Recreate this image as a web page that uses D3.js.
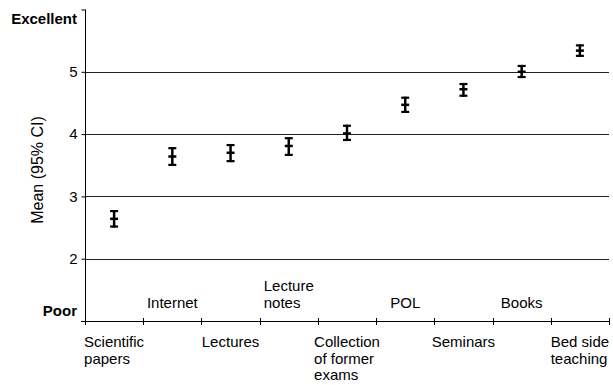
<!DOCTYPE html>
<html>
<head>
<meta charset="utf-8">
<script src="https://cdn.jsdelivr.net/npm/d3@7"></script>
<style>
  html, body { margin: 0; padding: 0; background: #fff; }
  svg { display: block; font-family: "Liberation Sans", Arial, sans-serif; }
</style>
</head>
<body>
<svg id="chart" width="613" height="385"></svg>
<script>
// ---- data ----
const categories = ["Scientific papers", "Internet", "Lectures", "Lecture notes",
  "Collection of former exams", "POL", "Seminars", "Books", "Bed side teaching"];
const categoryLabels = ["Scientific\npapers", "Internet", "Lectures", "Lecture\nnotes",
  "Collection\nof former\nexams", "POL", "Seminars", "Books", "Bed side\nteaching"];
const means = [2.64, 3.64, 3.70, 3.81, 4.01, 4.47, 4.72, 5.00, 5.34];
const lowerCI = [2.50, 3.49, 3.55, 3.65, 3.89, 4.34, 4.60, 4.90, 5.24];
const upperCI = [2.78, 3.79, 3.84, 3.95, 4.15, 4.60, 4.82, 5.11, 5.44];
const yTickValues = [1, 2, 3, 4, 5, 6];
const yTickLabels = ["", "2", "3", "4", "5", ""];
const scaleEndLabels = ["Poor", "Excellent"];
const scaleEndValues = [1.17, 5.85];
const gridValues = [2, 3, 4, 5];
const yTitle = "Mean (95% CI)";

// ---- layout ----
const svg = d3.select("#chart");
const mLeft = 85, mRight = 609, mTop = 9.5, mBottom = 321;
const x = d3.scaleBand().domain(categories).range([mLeft, mRight]).padding(0);
const y = d3.scaleLinear().domain([1, 6]).range([mBottom, mTop]);

// gridlines
svg.append("g").selectAll("line").data(gridValues).join("line")
  .attr("x1", mLeft).attr("x2", mRight)
  .attr("y1", d => Math.round(y(d)) + 0.5).attr("y2", d => Math.round(y(d)) + 0.5)
  .attr("stroke", "#222").attr("stroke-width", 1);

// y axis
const yAxis = d3.axisLeft(y).tickValues(yTickValues)
  .tickFormat((d, i) => yTickLabels[i]).tickSizeInner(4).tickSizeOuter(0).tickPadding(4);
const gy = svg.append("g").attr("transform", `translate(${mLeft + 0.5},0)`).call(yAxis);
gy.select(".domain").attr("stroke", "#000");
gy.selectAll(".tick line").attr("stroke", "#000");
gy.selectAll(".tick text")
  .attr("font-size", 15)
  .attr("fill", "#000")
  .attr("font-family", "'Liberation Sans', Arial, sans-serif");
gy.select(".domain").attr("d", `M0,${y(6)}V${y(1) + 3}`);

// end-of-scale labels
svg.append("g").selectAll("text").data(scaleEndLabels).join("text")
  .attr("x", 77)
  .attr("y", (d, i) => y(scaleEndValues[i]))
  .attr("dy", "0.35em")
  .attr("text-anchor", "end")
  .attr("font-size", 15)
  .attr("font-weight", "bold")
  .attr("fill", "#000")
  .text(d => d);

// x axis line
svg.append("line")
  .attr("x1", mLeft - 4).attr("x2", mRight)
  .attr("y1", Math.round(mBottom) + 0.5).attr("y2", Math.round(mBottom) + 0.5)
  .attr("stroke", "#000");

// x ticks at band boundaries
const boundaries = categories.map(c => x(c)).concat([x(categories[categories.length - 1]) + x.bandwidth()]);
svg.append("g").selectAll("line").data(boundaries).join("line")
  .attr("x1", d => Math.round(d) + 0.5).attr("x2", d => Math.round(d) + 0.5)
  .attr("y1", mBottom - 3).attr("y2", mBottom + 4)
  .attr("stroke", "#000");

// category labels (alternating below / above axis)
const lh = 16.5;
const labelG = svg.append("g").attr("font-size", 15).attr("fill", "#000");
categories.forEach((c, i) => {
  const lines = categoryLabels[i].split("\n");
  const cx = x(c) + x.bandwidth() / 2;
  const t = labelG.append("text");
  let baseY;
  if (i % 2 === 0) baseY = 347;
  else baseY = 307.5 - (lines.length - 1) * lh;
  lines.forEach((ln, j) => {
    t.append("tspan").attr("y", baseY + j * lh).text(ln);
  });
  let maxW = 0;
  t.selectAll("tspan").each(function() { maxW = Math.max(maxW, this.getComputedTextLength()); });
  t.selectAll("tspan").attr("x", cx - maxW / 2);
});

// y title
svg.append("text")
  .attr("transform", `translate(43,170) rotate(-90)`)
  .attr("text-anchor", "middle")
  .attr("font-size", 16)
  .attr("fill", "#000")
  .text(yTitle);

// error bars
const eb = svg.append("g").attr("stroke", "#000");
const capW = 8;
categories.forEach((c, i) => {
  const cx = x(c) + x.bandwidth() / 2;
  eb.append("line").attr("x1", cx).attr("x2", cx)
    .attr("y1", y(upperCI[i])).attr("y2", y(lowerCI[i])).attr("stroke-width", 2.5);
  eb.append("line").attr("x1", cx - capW / 2).attr("x2", cx + capW / 2)
    .attr("y1", y(upperCI[i]) + 1).attr("y2", y(upperCI[i]) + 1).attr("stroke-width", 2.2);
  eb.append("line").attr("x1", cx - capW / 2).attr("x2", cx + capW / 2)
    .attr("y1", y(lowerCI[i]) - 1).attr("y2", y(lowerCI[i]) - 1).attr("stroke-width", 2.2);
  eb.append("line").attr("x1", cx - capW / 2).attr("x2", cx + capW / 2)
    .attr("y1", y(means[i])).attr("y2", y(means[i])).attr("stroke-width", 2.5);
});
</script>
</body>
</html>
